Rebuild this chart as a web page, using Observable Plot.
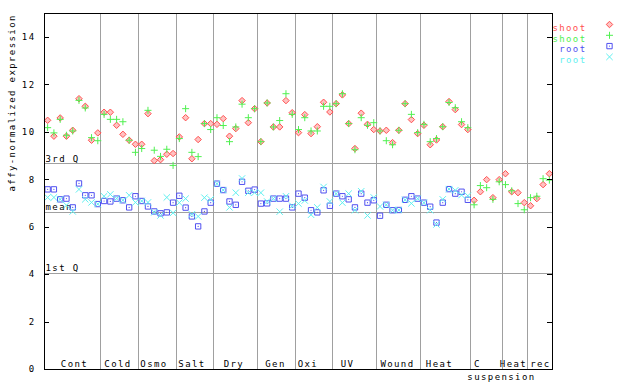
<!DOCTYPE html>
<html>
<head>
<meta charset="utf-8">
<script src="https://cdn.jsdelivr.net/npm/d3@7"></script>
<script src="https://cdn.jsdelivr.net/npm/@observablehq/plot@0.6"></script>
<style>
  html, body { margin: 0; padding: 0; background: #fff; }
</style>
</head>
<body>
<div id="chart"></div>
<script>
// ---- data ----
const groups = ["Cont","Cold","Osmo","Salt","Dry","Gen","Oxi","UV","Wound","Heat","C","Heat","rec"];
const groupSizes = [9,6,6,6,7,6,6,7,7,8,5,4,4];
const groupLabelPos = [4.78,11.72,17.46,23.52,30.21,36.83,42.01,48.31,56.28,62.98,69.04,74.78,79.08];
const subLabel = "suspension";
const subLabelPos = 72.86;

const yTicks = [0,2,4,6,8,10,12,14];
const quartileNames = ["3rd Q","mean","1st Q"];
const quartileValues = [8.67, 6.62, 4.06];

const shoot1 = [10.50,9.83,10.60,9.83,10.08,11.41,11.09,9.66,9.97,
  10.84,10.84,10.29,9.91,9.66,9.49,
  9.49,10.78,8.80,8.84,9.07,9.10,
  9.80,10.61,8.88,9.69,10.36,10.36,
  10.33,10.57,9.83,10.15,11.33,10.40,10.99,
  9.60,11.23,10.22,10.22,11.33,10.82,
  9.98,10.74,9.94,10.23,11.26,10.85,
  11.20,11.57,10.36,9.31,10.80,10.33,10.11,
  10.05,10.08,9.56,10.08,11.20,10.53,9.94,
  10.29,9.47,9.67,10.23,11.29,10.95,10.32,10.11,
  7.13,7.49,8.00,7.24,8.00,
  8.25,7.49,7.45,7.03,
  6.90,7.20,7.79,8.25];
const shoot2 = [10.19,9.97,10.54,9.87,10.05,11.34,11.02,9.77,9.64,
  10.75,10.54,10.54,10.44,9.66,9.15,
  9.31,10.92,9.24,8.98,9.28,8.60,
  9.73,10.99,9.15,8.97,10.36,10.11,
  10.61,10.28,9.60,10.22,11.18,10.61,10.99,
  9.60,11.23,10.22,10.49,11.62,10.75,
  10.11,10.61,10.05,10.05,11.09,11.09,
  11.20,11.62,10.36,9.26,10.61,10.29,10.40,
  10.05,9.64,9.47,10.08,11.20,10.75,9.98,
  10.33,9.60,9.73,10.23,11.25,11.03,10.44,10.19,
  6.94,7.75,7.66,7.17,7.91,
  7.79,7.53,6.99,6.73,
  7.24,7.30,8.04,7.98];
const root1 = [7.59,7.59,7.17,7.20,6.83,7.84,7.34,7.34,6.97,
  7.10,7.08,7.20,7.13,6.83,7.30,
  7.10,6.87,6.66,6.58,6.62,7.03,
  7.32,6.82,6.45,6.03,6.66,7.03,
  7.83,7.56,7.08,6.94,7.91,7.53,7.58,
  6.99,7.00,7.20,7.20,7.20,6.83,
  7.41,7.24,6.71,6.62,7.55,6.90,
  7.41,7.30,7.17,6.83,7.41,7.03,7.13,
  6.48,6.94,6.71,6.72,7.15,7.30,7.20,
  7.03,6.86,6.19,7.03,7.60,7.41,7.49,7.15];
const root2 = [7.25,7.25,7.17,6.92,6.66,7.59,7.17,7.04,6.97,
  7.30,7.38,7.21,7.13,7.34,7.04,
  7.10,7.04,6.62,6.49,7.25,6.60,
  7.03,7.20,6.54,6.45,7.24,7.17,
  7.83,7.56,6.83,7.45,8.05,7.45,7.45,
  7.45,7.08,7.20,6.65,7.30,6.90,
  6.99,7.12,6.52,6.83,7.69,7.08,
  7.41,7.03,7.41,6.71,7.51,6.49,7.25,
  6.87,6.94,6.71,6.72,7.15,7.00,7.20,
  7.03,6.71,6.11,7.17,7.60,7.55,7.35,7.32];

const seriesNames = ["shoot","shoot","root","root"];
const seriesColors = ["#ff5050","#50f050","#5050f0","#60f0f0"];
const seriesSymbols = ["diamond2","plus","square2","times"];
const seriesRadius = [2.9, 2.4, 3.4, 3.0];
const seriesFillOpacity = [0.35, 0, 0, 0];
const seriesData = [shoot1, shoot2, root1, root2];

// ---- layout ----
const W = 640, H = 384, mL = 44, mR = 88, mT = 13, mB = 15;
const tickLen = 5;
const frameW = W - mL - mR;

// ---- derived ----
const nSamples = d3.sum(groupSizes);
const boundaries = d3.cumsum(groupSizes).slice(0, -1);
const gray = "#a0a0a0";

function symbolMarks(data, k, opts) {
  const out = [Plot.dot(data, {
    ...opts,
    symbol: seriesSymbols[k], r: seriesRadius[k],
    stroke: seriesColors[k], strokeWidth: 1,
    fill: seriesColors[k], fillOpacity: seriesFillOpacity[k]
  })];
  if (seriesSymbols[k] === "square2") {
    out.push(Plot.dot(data, {...opts, r: 0.6, fill: seriesColors[k], stroke: "none"}));
  }
  return out;
}

const pointMarks = [];
seriesData.forEach((arr, k) => {
  pointMarks.push(...symbolMarks(arr, k, {x: (d, i) => i + 0.5, y: d => d}));
});

const legendMarks = [];
seriesNames.forEach((name, k) => {
  const dy = 11 + k * 10.8;
  legendMarks.push(Plot.text([name], {frameAnchor: "top-right", dx: 34, dy, textAnchor: "end", fill: seriesColors[k]}));
  legendMarks.push(...symbolMarks([0], k, {frameAnchor: "top-right", dx: 57, dy}));
});

const chart = Plot.plot({
  width: W,
  height: H,
  marginLeft: mL,
  marginRight: mR,
  marginTop: mT,
  marginBottom: mB,
  x: {domain: [0, nSamples], axis: null},
  y: {domain: [0, 15], axis: null},
  style: {fontFamily: "'DejaVu Sans Mono', monospace", fontSize: "9px", letterSpacing: "1.4px", background: "#fff", color: "#000"},
  marks: [
    Plot.ruleX(boundaries, {x: d => d, stroke: gray, strokeWidth: 1, shapeRendering: "crispEdges"}),
    Plot.ruleY(quartileValues, {y: d => d, stroke: gray, strokeWidth: 1, shapeRendering: "crispEdges"}),
    Plot.text(quartileNames, {x: 0, y: (d, i) => quartileValues[i], textAnchor: "start", dx: 1, dy: -5, fill: "#000"}),
    ...pointMarks,
    Plot.text(groups, {x: (d, i) => groupLabelPos[i], y: 0, dy: -5, fill: "#000"}),
    Plot.text([subLabel], {x: subLabelPos, y: 0, dy: 8, fill: "#000"}),
    Plot.ruleY(yTicks, {y: d => d, insetRight: frameW - tickLen, stroke: "#000", shapeRendering: "crispEdges"}),
    Plot.ruleY(yTicks, {y: d => d, insetLeft: frameW - tickLen, stroke: "#000", shapeRendering: "crispEdges"}),
    Plot.text(yTicks, {y: d => d, frameAnchor: "left", dx: -9, textAnchor: "end", fill: "#000"}),
    Plot.text(["affy-normalized expression"], {frameAnchor: "left", rotate: -90, dx: -32, fill: "#000"}),
    Plot.frame({stroke: "#000", strokeWidth: 1, shapeRendering: "crispEdges"}),
    ...legendMarks
  ]
});
document.getElementById("chart").appendChild(chart);
</script>
</body>
</html>
